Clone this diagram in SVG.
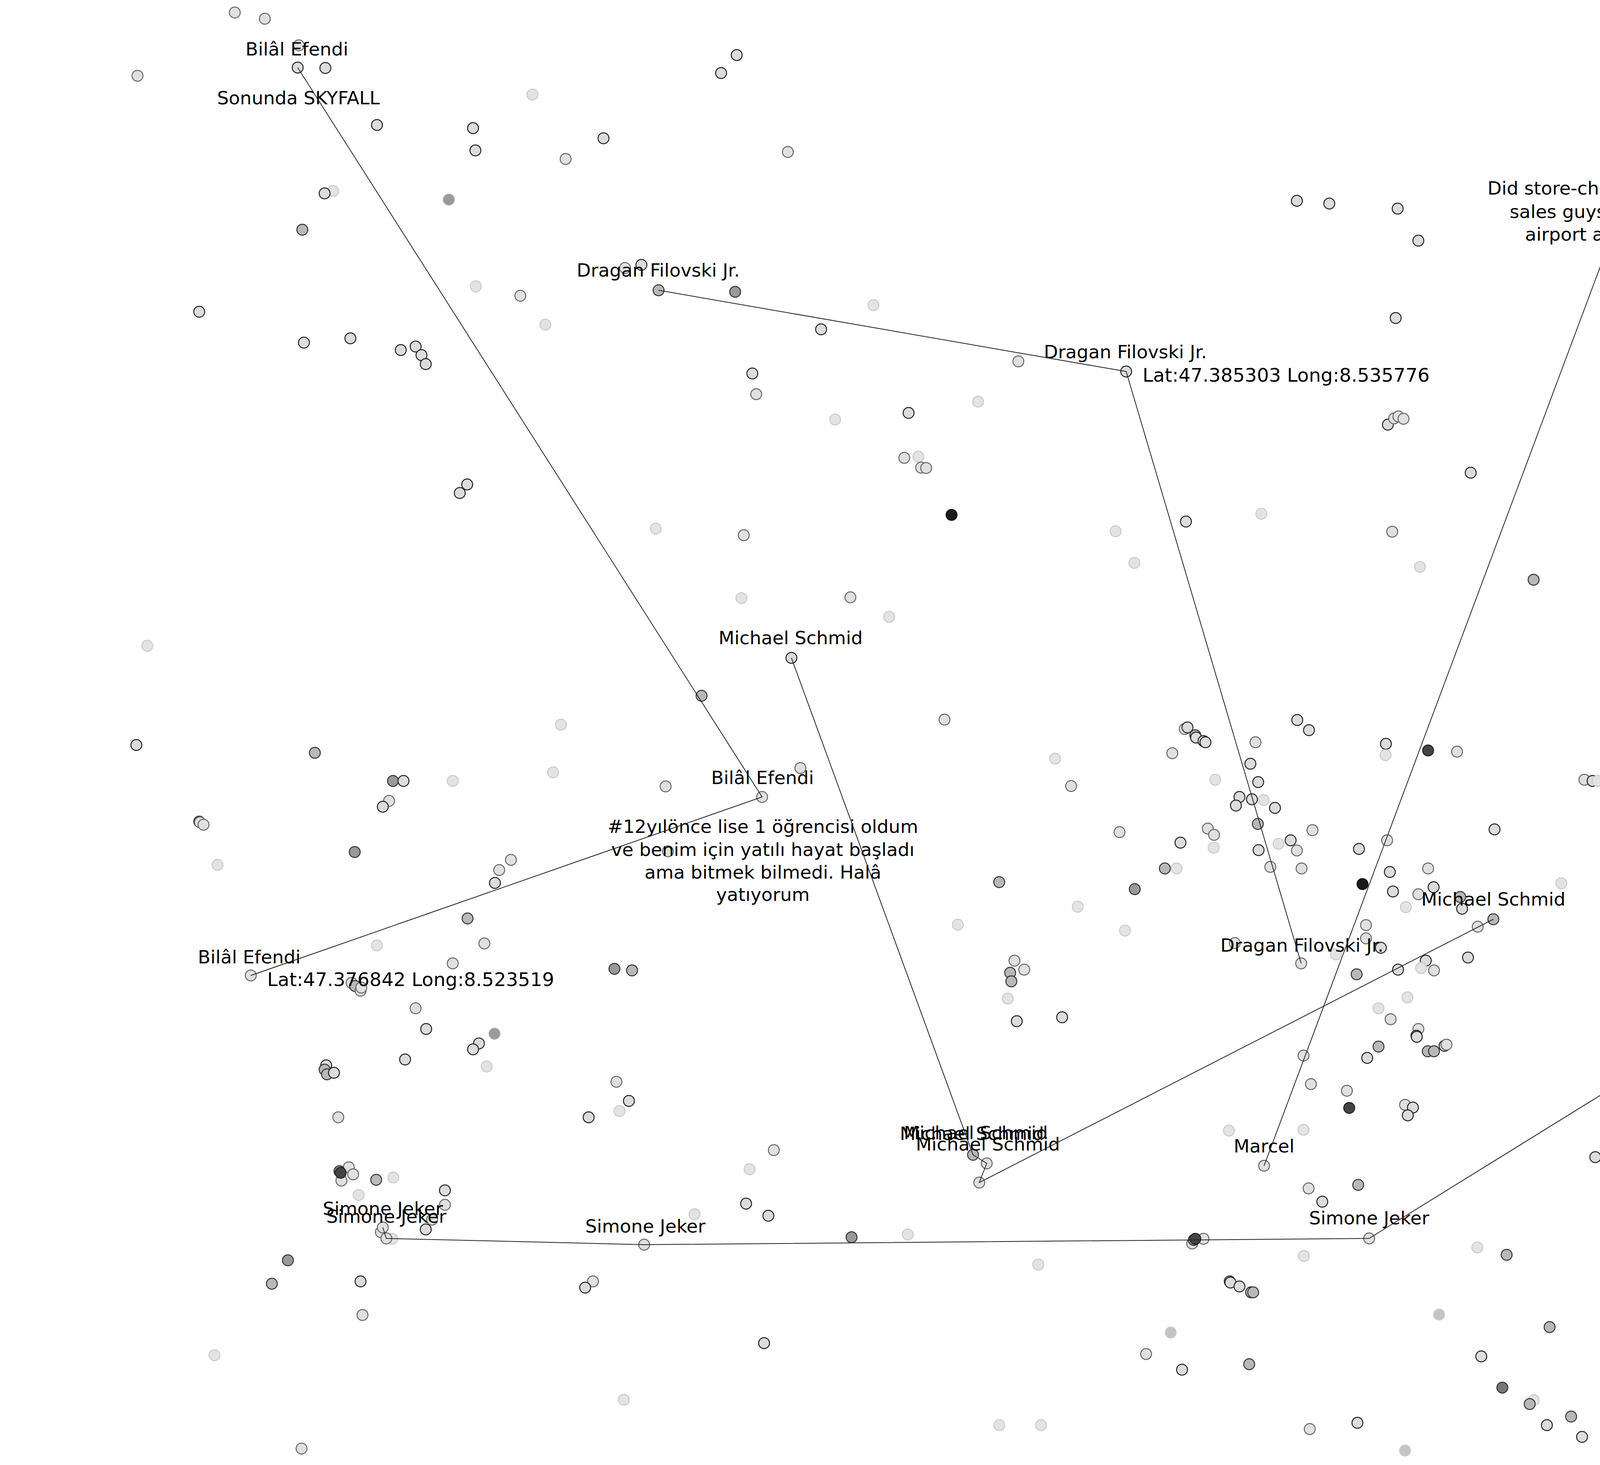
<svg xmlns="http://www.w3.org/2000/svg" width="6666" height="3750" viewBox="0 0 6666 3750">
<style>
circle{stroke-width:2.5}
.L{fill:#dcdcdc;stroke:#222}
.M{fill:#e0e0e0;stroke:#666}
.F{fill:#e3e3e3;stroke:#cacaca}
.G{fill:#b8b8b8;stroke:#333}
.D{fill:#999;stroke:#333}
.K{fill:#1a1a1a;stroke:#111}
.N{fill:#444;stroke:#222}
.E{fill:#777;stroke:#333}
.Q{fill:#9a9a9a;stroke:#aaa}
.H{fill:#c4c4c4;stroke:#cacaca}
.t{font-family:"DejaVu Sans","Liberation Sans",sans-serif;font-size:47px;fill:#000;text-anchor:middle}
.lat{font-family:"DejaVu Sans","Liberation Sans",sans-serif;font-size:48.5px;fill:#000;text-anchor:start}
.c{fill:none;stroke:#222;stroke-width:2}
.ttl{font-family:"DejaVu Sans","Liberation Sans",sans-serif;font-weight:200;fill:#222}
</style>
<rect width="6666" height="3750" fill="#fff"/>
<g id="points">
<circle r="14" cx="601" cy="32" class="M"/><circle r="14" cx="678" cy="48" class="M"/><circle r="14" cx="765" cy="116" class="M"/><circle r="14" cx="833" cy="174" class="L"/><circle r="14" cx="352" cy="194" class="M"/><circle r="14" cx="1363" cy="242" class="F"/><circle r="14" cx="965" cy="320" class="L"/><circle r="14" cx="1211" cy="328" class="L"/><circle r="14" cx="1217" cy="385" class="L"/><circle r="14" cx="1545" cy="354" class="L"/><circle r="14" cx="1448" cy="407" class="M"/><circle r="14" cx="853" cy="489" class="F"/><circle r="14" cx="831" cy="495" class="L"/><circle r="14" cx="1149" cy="511" class="Q"/><circle r="14" cx="774" cy="588" class="G"/><circle r="14" cx="1218" cy="733" class="F"/><circle r="14" cx="1332" cy="757" class="M"/><circle r="14" cx="1396" cy="831" class="F"/><circle r="14" cx="510" cy="798" class="L"/><circle r="14" cx="778" cy="877" class="L"/><circle r="14" cx="897" cy="866" class="L"/><circle r="14" cx="1026" cy="896" class="L"/><circle r="14" cx="1064" cy="887" class="L"/><circle r="14" cx="1079" cy="909" class="L"/><circle r="14" cx="1090" cy="932" class="L"/><circle r="14" cx="1600" cy="686" class="M"/><circle r="14" cx="1642" cy="678" class="L"/><circle r="14" cx="1196" cy="1240" class="L"/><circle r="14" cx="1177" cy="1262" class="L"/>
<circle r="14" cx="1886" cy="141" class="L"/><circle r="14" cx="1846" cy="187" class="L"/><circle r="14" cx="2017" cy="389" class="M"/><circle r="14" cx="3320" cy="514" class="L"/><circle r="14" cx="1882" cy="747" class="D"/><circle r="14" cx="2236" cy="781" class="F"/><circle r="14" cx="2102" cy="843" class="L"/><circle r="14" cx="2607" cy="925" class="M"/><circle r="14" cx="1926" cy="956" class="L"/><circle r="14" cx="1936" cy="1009" class="M"/><circle r="14" cx="2138" cy="1074" class="F"/><circle r="14" cx="2326" cy="1057" class="L"/><circle r="14" cx="2504" cy="1028" class="F"/><circle r="14" cx="2315" cy="1172" class="M"/><circle r="14" cx="2351" cy="1169" class="F"/><circle r="14" cx="2358" cy="1197" class="M"/><circle r="14" cx="2371" cy="1198" class="M"/>
<circle r="14" cx="4385" cy="344" class="L"/><circle r="14" cx="3403" cy="521" class="L"/><circle r="14" cx="3578" cy="534" class="L"/><circle r="14" cx="3631" cy="616" class="L"/><circle r="14" cx="3573" cy="814" class="L"/><circle r="14" cx="4637" cy="808" class="L"/><circle r="14" cx="4866" cy="863" class="F"/><circle r="14" cx="3553" cy="1087" class="L"/><circle r="14" cx="3569" cy="1071" class="M"/><circle r="14" cx="3580" cy="1066" class="M"/><circle r="14" cx="3593" cy="1072" class="M"/><circle r="14" cx="3765" cy="1210" class="L"/>
<circle r="14" cx="377" cy="1653" class="F"/><circle r="14" cx="349" cy="1907" class="L"/><circle r="14" cx="806" cy="1927" class="G"/><circle r="14" cx="1006" cy="1999" class="D"/><circle r="14" cx="1033" cy="1999" class="L"/><circle r="14" cx="1159" cy="1999" class="F"/><circle r="14" cx="1436" cy="1855" class="F"/><circle r="14" cx="1416" cy="1977" class="F"/><circle r="14" cx="996" cy="2050" class="M"/><circle r="14" cx="980" cy="2065" class="L"/><circle r="14" cx="510" cy="2103" class="G"/><circle r="14" cx="512" cy="2105" class="M"/><circle r="14" cx="521" cy="2111" class="M"/><circle r="14" cx="908" cy="2181" class="D"/><circle r="14" cx="557" cy="2214" class="F"/><circle r="14" cx="1308" cy="2201" class="M"/><circle r="14" cx="1278" cy="2227" class="M"/><circle r="14" cx="1267" cy="2260" class="L"/><circle r="14" cx="1197" cy="2351" class="G"/><circle r="14" cx="965" cy="2420" class="F"/><circle r="14" cx="1240" cy="2415" class="M"/><circle r="14" cx="1159" cy="2466" class="M"/><circle r="14" cx="1573" cy="2480" class="D"/><circle r="14" cx="1618" cy="2484" class="G"/>
<circle r="14" cx="1679" cy="1353" class="F"/><circle r="14" cx="1904" cy="1370" class="M"/><circle r="14" cx="2436" cy="1318" class="K"/><circle r="14" cx="1898" cy="1531" class="F"/><circle r="14" cx="2177" cy="1529" class="M"/><circle r="14" cx="2276" cy="1579" class="F"/><circle r="14" cx="1796" cy="1781" class="G"/><circle r="14" cx="2418" cy="1842" class="M"/><circle r="14" cx="2856" cy="1360" class="F"/><circle r="14" cx="3036" cy="1335" class="L"/><circle r="14" cx="3229" cy="1315" class="F"/><circle r="14" cx="2904" cy="1441" class="F"/><circle r="14" cx="3321" cy="1843" class="L"/><circle r="14" cx="3033" cy="1866" class="M"/><circle r="14" cx="3040" cy="1862" class="L"/><circle r="14" cx="3060" cy="1882" class="G"/><circle r="14" cx="3062" cy="1888" class="L"/><circle r="14" cx="3081" cy="1897" class="L"/><circle r="14" cx="3086" cy="1900" class="L"/><circle r="14" cx="3001" cy="1928" class="M"/><circle r="14" cx="3214" cy="1900" class="M"/><circle r="14" cx="2701" cy="1942" class="F"/><circle r="14" cx="2742" cy="2012" class="M"/><circle r="14" cx="3201" cy="1955" class="L"/><circle r="14" cx="3111" cy="1996" class="F"/><circle r="14" cx="3221" cy="2002" class="L"/><circle r="14" cx="3173" cy="2040" class="L"/><circle r="14" cx="3235" cy="2048" class="F"/><circle r="14" cx="3205" cy="2046" class="L"/><circle r="14" cx="3164" cy="2062" class="L"/><circle r="14" cx="3264" cy="2068" class="L"/><circle r="14" cx="3220" cy="2109" class="G"/><circle r="14" cx="3092" cy="2121" class="M"/><circle r="14" cx="3108" cy="2137" class="M"/><circle r="14" cx="3107" cy="2170" class="F"/><circle r="14" cx="2866" cy="2130" class="M"/><circle r="14" cx="3022" cy="2157" class="L"/><circle r="14" cx="3304" cy="2151" class="L"/><circle r="14" cx="3273" cy="2160" class="F"/><circle r="14" cx="3320" cy="2177" class="M"/><circle r="14" cx="3222" cy="2176" class="L"/><circle r="14" cx="2982" cy="2223" class="G"/><circle r="14" cx="3012" cy="2223" class="F"/><circle r="14" cx="3252" cy="2219" class="M"/><circle r="14" cx="3332" cy="2223" class="M"/><circle r="14" cx="2558" cy="2258" class="G"/><circle r="14" cx="2905" cy="2276" class="D"/><circle r="14" cx="2759" cy="2321" class="F"/><circle r="14" cx="2452" cy="2367" class="F"/><circle r="14" cx="2880" cy="2382" class="F"/><circle r="14" cx="2049" cy="1966" class="M"/><circle r="14" cx="1704" cy="2013" class="M"/><circle r="14" cx="1710" cy="2179" class="M"/><circle r="14" cx="3161" cy="2414" class="M"/><circle r="14" cx="2597" cy="2459" class="M"/><circle r="14" cx="2622" cy="2482" class="M"/><circle r="14" cx="2586" cy="2490" class="G"/>
<circle r="14" cx="3564" cy="1361" class="M"/><circle r="14" cx="3635" cy="1451" class="F"/><circle r="14" cx="3926" cy="1484" class="G"/><circle r="14" cx="4972" cy="1326" class="G"/><circle r="14" cx="4931" cy="1533" class="L"/><circle r="14" cx="4938" cy="1541" class="G"/><circle r="14" cx="4951" cy="1539" class="L"/><circle r="14" cx="4957" cy="1547" class="M"/><circle r="14" cx="4635" cy="1729" class="L"/><circle r="14" cx="3351" cy="1869" class="L"/><circle r="14" cx="3548" cy="1904" class="L"/><circle r="14" cx="3547" cy="1933" class="F"/><circle r="14" cx="3656" cy="1921" class="N"/><circle r="14" cx="3730" cy="1924" class="M"/><circle r="14" cx="4056" cy="1996" class="M"/><circle r="14" cx="4077" cy="1999" class="L"/><circle r="14" cx="4090" cy="1999" class="F"/><circle r="14" cx="4202" cy="1999" class="F"/><circle r="14" cx="4297" cy="1994" class="F"/><circle r="14" cx="4145" cy="2030" class="M"/><circle r="14" cx="4202" cy="2083" class="L"/><circle r="14" cx="4276" cy="2076" class="M"/><circle r="14" cx="4401" cy="2167" class="M"/><circle r="14" cx="4410" cy="2167" class="L"/><circle r="14" cx="4417" cy="2160" class="G"/><circle r="14" cx="4659" cy="2172" class="M"/><circle r="14" cx="3360" cy="2125" class="M"/><circle r="14" cx="3479" cy="2173" class="L"/><circle r="14" cx="3551" cy="2151" class="M"/><circle r="14" cx="3826" cy="2123" class="L"/><circle r="14" cx="3558" cy="2232" class="L"/><circle r="14" cx="3656" cy="2223" class="M"/><circle r="14" cx="3488" cy="2263" class="K"/><circle r="14" cx="3566" cy="2282" class="L"/><circle r="14" cx="3631" cy="2289" class="M"/><circle r="14" cx="3670" cy="2271" class="L"/><circle r="14" cx="3738" cy="2296" class="G"/><circle r="14" cx="3599" cy="2322" class="F"/><circle r="14" cx="3743" cy="2326" class="L"/><circle r="14" cx="3997" cy="2261" class="F"/><circle r="14" cx="4438" cy="2338" class="G"/><circle r="14" cx="3497" cy="2368" class="M"/><circle r="14" cx="3497" cy="2402" class="M"/><circle r="14" cx="3535" cy="2426" class="L"/><circle r="14" cx="3420" cy="2443" class="F"/><circle r="14" cx="3783" cy="2372" class="M"/><circle r="14" cx="3758" cy="2451" class="L"/><circle r="14" cx="3650" cy="2459" class="L"/><circle r="14" cx="3638" cy="2478" class="F"/><circle r="14" cx="3671" cy="2484" class="M"/><circle r="14" cx="3579" cy="2482" class="L"/><circle r="14" cx="3473" cy="2494" class="G"/>
<circle r="14" cx="5476" cy="1354" class="M"/><circle r="14" cx="6059" cy="2046" class="F"/><circle r="14" cx="5443" cy="2116" class="M"/><circle r="14" cx="5581" cy="2192" class="M"/>
<circle r="14" cx="900" cy="2516" class="M"/><circle r="14" cx="909" cy="2524" class="G"/><circle r="14" cx="923" cy="2536" class="M"/><circle r="14" cx="925" cy="2528" class="M"/><circle r="14" cx="1064" cy="2581" class="M"/><circle r="14" cx="1091" cy="2634" class="L"/><circle r="14" cx="1266" cy="2646" class="Q"/><circle r="14" cx="1226" cy="2671" class="L"/><circle r="14" cx="1211" cy="2686" class="L"/><circle r="14" cx="1037" cy="2712" class="L"/><circle r="14" cx="1246" cy="2730" class="F"/><circle r="14" cx="835" cy="2727" class="L"/><circle r="14" cx="831" cy="2738" class="G"/><circle r="14" cx="837" cy="2750" class="G"/><circle r="14" cx="855" cy="2746" class="L"/><circle r="14" cx="1578" cy="2769" class="M"/><circle r="14" cx="1610" cy="2818" class="L"/><circle r="14" cx="1586" cy="2844" class="F"/><circle r="14" cx="1507" cy="2860" class="L"/><circle r="14" cx="866" cy="2860" class="M"/><circle r="14" cx="893" cy="2988" class="M"/><circle r="14" cx="904" cy="3006" class="M"/><circle r="14" cx="874" cy="3022" class="M"/><circle r="14" cx="869" cy="2998" class="D"/><circle r="14" cx="872" cy="3002" class="N"/><circle r="14" cx="963" cy="3020" class="G"/><circle r="14" cx="1007" cy="3014" class="F"/><circle r="14" cx="918" cy="3059" class="F"/><circle r="14" cx="1139" cy="3047" class="L"/><circle r="14" cx="1139" cy="3084" class="M"/><circle r="14" cx="1106" cy="3122" class="M"/><circle r="14" cx="1090" cy="3147" class="L"/><circle r="14" cx="1004" cy="3171" class="F"/><circle r="14" cx="975" cy="3154" class="M"/><circle r="14" cx="737" cy="3226" class="D"/><circle r="14" cx="696" cy="3286" class="G"/><circle r="14" cx="923" cy="3280" class="L"/><circle r="14" cx="928" cy="3366" class="M"/><circle r="14" cx="1518" cy="3280" class="M"/><circle r="14" cx="1498" cy="3296" class="L"/><circle r="14" cx="549" cy="3469" class="F"/><circle r="14" cx="1597" cy="3583" class="F"/><circle r="14" cx="772" cy="3708" class="M"/>
<circle r="14" cx="2589" cy="2512" class="G"/><circle r="14" cx="2580" cy="2556" class="F"/><circle r="14" cx="2603" cy="2614" class="L"/><circle r="14" cx="2719" cy="2604" class="L"/><circle r="14" cx="3337" cy="2702" class="M"/><circle r="14" cx="1981" cy="2944" class="M"/><circle r="14" cx="1919" cy="2993" class="F"/><circle r="14" cx="1910" cy="3081" class="L"/><circle r="14" cx="1967" cy="3112" class="L"/><circle r="14" cx="1778" cy="3108" class="F"/><circle r="14" cx="2180" cy="3167" class="D"/><circle r="14" cx="2324" cy="3160" class="F"/><circle r="14" cx="3146" cy="2894" class="F"/><circle r="14" cx="3337" cy="2892" class="F"/><circle r="14" cx="3081" cy="3171" class="M"/><circle r="14" cx="3052" cy="3183" class="M"/><circle r="14" cx="3056" cy="3174" class="D"/><circle r="14" cx="3060" cy="3171" class="N"/><circle r="14" cx="3338" cy="3215" class="F"/><circle r="14" cx="2658" cy="3237" class="F"/><circle r="14" cx="3148" cy="3280" class="G"/><circle r="14" cx="3150" cy="3283" class="L"/><circle r="14" cx="3173" cy="3293" class="L"/><circle r="14" cx="3203" cy="3308" class="L"/><circle r="14" cx="3208" cy="3308" class="G"/><circle r="14" cx="2997" cy="3411" class="H"/><circle r="14" cx="2934" cy="3466" class="M"/><circle r="14" cx="3026" cy="3506" class="L"/><circle r="14" cx="3198" cy="3492" class="G"/><circle r="14" cx="1956" cy="3438" class="L"/><circle r="14" cx="2558" cy="3648" class="F"/><circle r="14" cx="2665" cy="3648" class="F"/>
<circle r="14" cx="3603" cy="2553" class="F"/><circle r="14" cx="3529" cy="2581" class="F"/><circle r="14" cx="3560" cy="2609" class="M"/><circle r="14" cx="3631" cy="2634" class="M"/><circle r="14" cx="3626" cy="2651" class="G"/><circle r="14" cx="3627" cy="2654" class="L"/><circle r="14" cx="3529" cy="2679" class="G"/><circle r="14" cx="3500" cy="2708" class="L"/><circle r="14" cx="3655" cy="2691" class="G"/><circle r="14" cx="3671" cy="2691" class="G"/><circle r="14" cx="3698" cy="2677" class="L"/><circle r="14" cx="3703" cy="2674" class="M"/><circle r="14" cx="3356" cy="2775" class="M"/><circle r="14" cx="3448" cy="2792" class="M"/><circle r="14" cx="3454" cy="2836" class="N"/><circle r="14" cx="3597" cy="2828" class="M"/><circle r="14" cx="3617" cy="2835" class="L"/><circle r="14" cx="3604" cy="2855" class="L"/><circle r="14" cx="4158" cy="2718" class="H"/><circle r="14" cx="4363" cy="2511" class="L"/><circle r="14" cx="4385" cy="2554" class="F"/><circle r="14" cx="4401" cy="2549" class="M"/><circle r="14" cx="4516" cy="2596" class="G"/><circle r="14" cx="4876" cy="2643" class="L"/><circle r="14" cx="4500" cy="2838" class="L"/><circle r="14" cx="4358" cy="2900" class="L"/><circle r="14" cx="4084" cy="2962" class="L"/><circle r="14" cx="4121" cy="2998" class="L"/><circle r="14" cx="4327" cy="3076" class="L"/><circle r="14" cx="4354" cy="3139" class="F"/><circle r="14" cx="4340" cy="3183" class="L"/><circle r="14" cx="4308" cy="3221" class="G"/><circle r="14" cx="4370" cy="3206" class="M"/><circle r="14" cx="4380" cy="3210" class="M"/><circle r="14" cx="4364" cy="3216" class="L"/><circle r="14" cx="4364" cy="3221" class="L"/><circle r="14" cx="4872" cy="3177" class="M"/><circle r="14" cx="3350" cy="3042" class="M"/><circle r="14" cx="3477" cy="3033" class="G"/><circle r="14" cx="3385" cy="3076" class="L"/><circle r="14" cx="3782" cy="3193" class="F"/><circle r="14" cx="3857" cy="3212" class="G"/><circle r="14" cx="4211" cy="3295" class="F"/><circle r="14" cx="4123" cy="3316" class="F"/><circle r="14" cx="4350" cy="3317" class="L"/><circle r="14" cx="4230" cy="3355" class="M"/><circle r="14" cx="4195" cy="3368" class="F"/><circle r="14" cx="4172" cy="3372" class="L"/><circle r="14" cx="3684" cy="3365" class="H"/><circle r="14" cx="3967" cy="3397" class="G"/><circle r="14" cx="4114" cy="3426" class="M"/><circle r="14" cx="4340" cy="3405" class="F"/><circle r="14" cx="4558" cy="3350" class="G"/><circle r="14" cx="4557" cy="3367" class="M"/><circle r="14" cx="3792" cy="3472" class="L"/><circle r="14" cx="4165" cy="3484" class="F"/><circle r="14" cx="4736" cy="3464" class="M"/><circle r="14" cx="4410" cy="3502" class="L"/><circle r="14" cx="3846" cy="3552" class="E"/><circle r="14" cx="3926" cy="3584" class="F"/><circle r="14" cx="3916" cy="3594" class="G"/><circle r="14" cx="4185" cy="3580" class="M"/><circle r="14" cx="4022" cy="3626" class="G"/><circle r="14" cx="3960" cy="3648" class="L"/><circle r="14" cx="4174" cy="3634" class="G"/><circle r="14" cx="4177" cy="3638" class="N"/><circle r="14" cx="4212" cy="3638" class="L"/><circle r="14" cx="4209" cy="3654" class="M"/><circle r="14" cx="4050" cy="3678" class="L"/><circle r="14" cx="4380" cy="3649" class="L"/><circle r="14" cx="4439" cy="3621" class="M"/><circle r="14" cx="4381" cy="3685" class="L"/><circle r="14" cx="4398" cy="3680" class="L"/><circle r="14" cx="4413" cy="3688" class="L"/><circle r="14" cx="4461" cy="3716" class="L"/><circle r="14" cx="4506" cy="3724" class="F"/><circle r="14" cx="3475" cy="3642" class="L"/><circle r="14" cx="3353" cy="3658" class="M"/><circle r="14" cx="3597" cy="3713" class="H"/>
<circle r="14" cx="5214" cy="2545" class="F"/><circle r="14" cx="5245" cy="2536" class="M"/><circle r="14" cx="5287" cy="2714" class="M"/><circle r="14" cx="6034" cy="2769" class="F"/><circle r="14" cx="6358" cy="2749" class="F"/><circle r="14" cx="5281" cy="2909" class="M"/><circle r="14" cx="5259" cy="2937" class="M"/><circle r="14" cx="5245" cy="3341" class="F"/><circle r="14" cx="5283" cy="3673" class="F"/><circle r="14" cx="5449" cy="3653" class="M"/>
</g>
<g id="node-bilal-1"><circle r="14" cx="762" cy="173" class="L"/><text class="t" x="760" y="142">Bilâl Efendi</text><text class="t" x="764" y="267">Sonunda SKYFALL</text></g>
<g id="node-bilal-2"><circle r="14" cx="1951" cy="2040" class="M"/><text class="t" x="1952" y="2007">Bilâl Efendi</text><text class="t" x="1953" y="2132">#12yılönce lise 1 öğrencisi oldum</text><text class="t" x="1953" y="2191">ve benim için yatılı hayat başladı</text><text class="t" x="1953" y="2249">ama bitmek bilmedi. Halâ</text><text class="t" x="1953" y="2306">yatıyorum</text></g>
<g id="node-bilal-3"><circle r="14" cx="642" cy="2497" class="M"/><text class="t" x="638" y="2466">Bilâl Efendi</text><text class="lat" x="684" y="2524">Lat:47.376842 Long:8.523519</text></g>
<g id="node-dragan-1"><circle r="14" cx="1686" cy="743" class="G"/><text class="t" x="1685" y="708">Dragan Filovski Jr.</text></g>
<g id="node-dragan-2"><circle r="14" cx="2883" cy="951" class="L"/><text class="t" x="2881" y="917">Dragan Filovski Jr.</text><text class="lat" x="2925" y="977">Lat:47.385303 Long:8.535776</text></g>
<g id="node-dragan-3"><circle r="14" cx="3331" cy="2466" class="M"/><text class="t" x="3333" y="2436">Dragan Filovski Jr.</text></g>
<g id="node-michael-1"><circle r="14" cx="2026" cy="1684" class="L"/><text class="t" x="2024" y="1649">Michael Schmid</text></g>
<g id="node-michael-2"><circle r="14" cx="2491" cy="2956" class="G"/><circle r="14" cx="2526" cy="2978" class="M"/><circle r="14" cx="2507" cy="3027" class="M"/><text class="t" x="2488" y="2918">Michael Schmid</text><text class="t" x="2498" y="2916">Michael Schmid</text><text class="t" x="2529" y="2945">Michael Schmid</text></g>
<g id="node-michael-3"><circle r="14" cx="3823" cy="2353" class="G"/><text class="t" x="3823" y="2318">Michael Schmid</text></g>
<g id="node-marcel-1"><circle r="14" cx="4199" cy="409" class="M"/><text class="t" x="4198" y="375">Marcel</text><text class="lat" x="4242" y="434">Lat:47.38827 Long:8.542975</text><text class="t" x="4192" y="498">Did store-checks, had lunch with</text><text class="t" x="4192" y="558">sales guys, now back to the</text><text class="t" x="4192" y="616">airport and then home...</text></g>
<g id="node-marcel-2"><circle r="14" cx="3236" cy="2984" class="M"/><text class="t" x="3236" y="2950">Marcel</text></g>
<g id="node-simone-1"><circle r="14" cx="980" cy="3142" class="M"/><circle r="14" cx="989" cy="3170" class="M"/><text class="t" x="980" y="3110">Simone Jeker</text><text class="t" x="989" y="3130">Simone Jeker</text></g>
<g id="node-simone-2"><circle r="14" cx="1649" cy="3186" class="M"/><text class="t" x="1652" y="3155">Simone Jeker</text></g>
<g id="node-simone-3"><circle r="14" cx="3505" cy="3170" class="M"/><text class="t" x="3505" y="3134">Simone Jeker</text></g>
<g id="node-simone-4"><circle r="14" cx="4967" cy="2265" class="M"/><text class="t" x="4968" y="2233">Simone Jeker</text><text class="t" x="4962" y="2358">Summary report als Ziel des</text><text class="t" x="4962" y="2416">umfassenden Monitorings</text><text class="t" x="4962" y="2474">@SOMEXCLOUD</text></g>
<g id="connectors">
<path class="c" d="M762,173 L1951,2040 L642,2497"/>
<path class="c" d="M1686,743 L2883,951 L3331,2466"/>
<path class="c" d="M2026,1684 L2491,2956 L2526,2978 L2507,3027 L3823,2353"/>
<path class="c" d="M4199,409 L3236,2984"/>
<path class="c" d="M980,3142 L989,3170 L1649,3186 L3505,3170 L4967,2265"/>
</g>
<g id="title">
<text class="ttl" x="5858" y="3503" font-size="63" textLength="688" lengthAdjust="spacing">ZURICH</text>
<text class="ttl" x="5858" y="3570" font-size="50" textLength="688" lengthAdjust="spacing">SWITZERLAND</text>
<text class="ttl" x="5858" y="3638" font-size="68" textLength="688" lengthAdjust="spacing">27_11_2012</text>
</g>
</svg>
